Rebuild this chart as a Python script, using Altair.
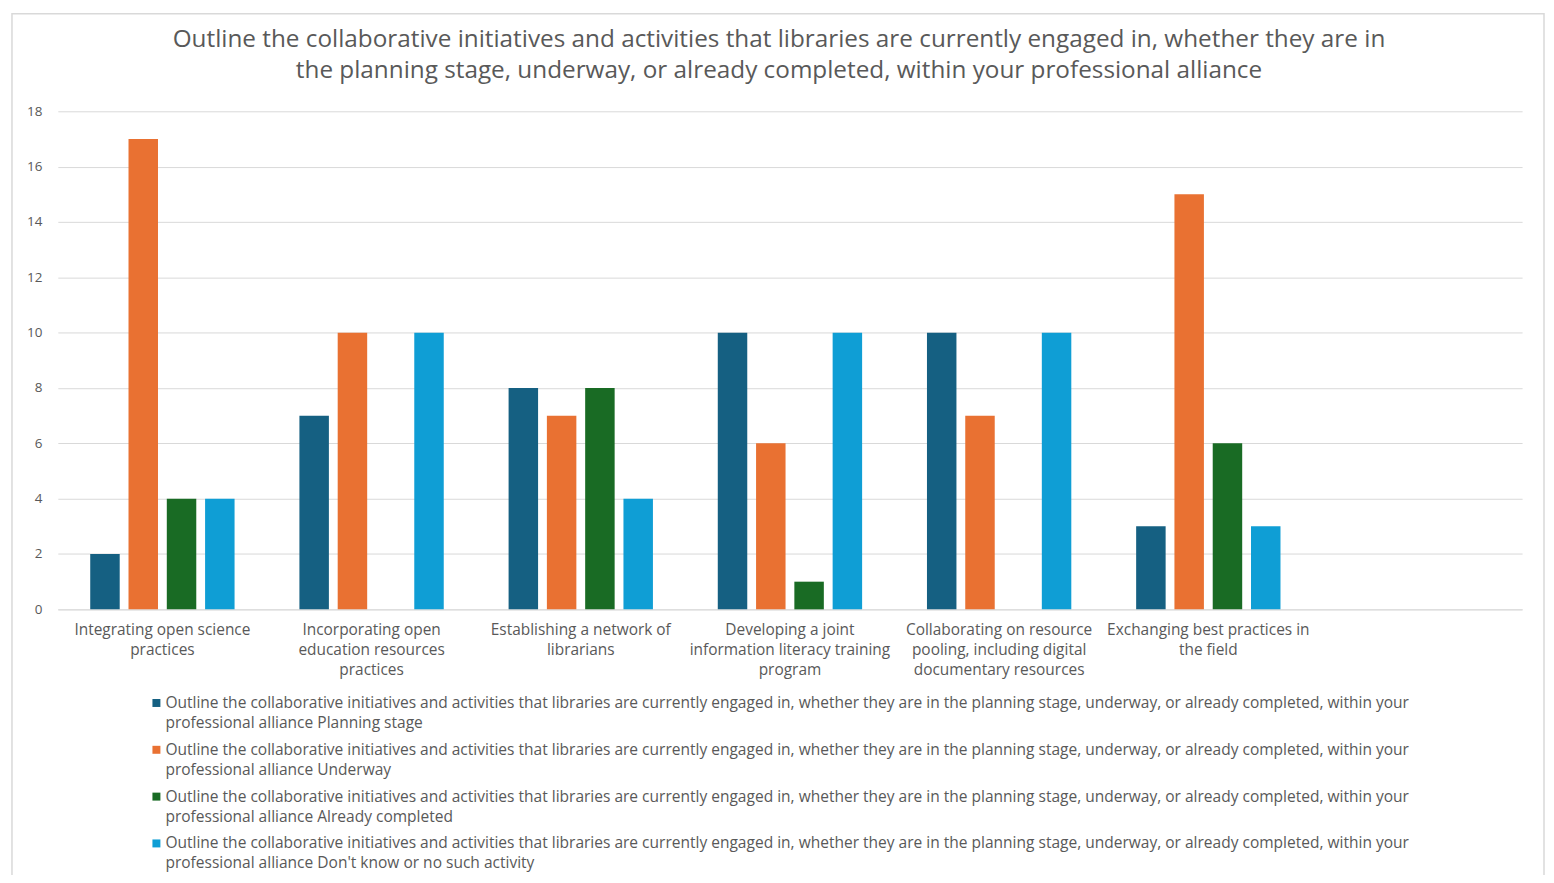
import json
import altair as alt
import pandas as pd

# ---------------- data ----------------
title_lines = [
    "Outline the collaborative initiatives and activities that libraries are currently engaged in, whether they are in",
    "the planning stage, underway, or already completed, within your professional alliance",
]
question = ("Outline the collaborative initiatives and activities that libraries are currently engaged in, "
            "whether they are in the planning stage, underway, or already completed, within your professional alliance")
statuses = ["Planning stage", "Underway", "Already completed", "Don't know or no such activity"]

categories = [
    "Integrating open science practices",
    "Incorporating open education resources practices",
    "Establishing a network of librarians",
    "Developing a joint information literacy training program",
    "Collaborating on resource pooling, including digital documentary resources",
    "Exchanging best practices in the field",
]
category_lines = [
    ["Integrating open science", "practices"],
    ["Incorporating open", "education resources", "practices"],
    ["Establishing a network of", "librarians"],
    ["Developing a joint", "information literacy training", "program"],
    ["Collaborating on resource", "pooling, including digital", "documentary resources"],
    ["Exchanging best practices in", "the field"],
]
planning = [2, 7, 8, 10, 10, 3]
underway = [17, 10, 7, 6, 7, 15]
completed = [4, 0, 8, 1, 0, 6]
dont_know = [4, 10, 4, 10, 10, 3]
y_ticks = list(range(0, 19, 2))

colors = ["#156082", "#E97132", "#196B24", "#0F9ED5"]
FONT = "Open Sans"
GREY = "#595959"

# ---------------- tables ----------------
series_names = [f"{question} {s}" for s in statuses]
values = [planning, underway, completed, dont_know]
rows = []
for sname, vals in zip(series_names, values):
    for cat, v in zip(categories, vals):
        rows.append({"category": cat, "series": sname, "value": v})
df = pd.DataFrame(rows)

split_at = question.index("professional")
legend_rows = []
for sname, status in zip(series_names, statuses):
    legend_rows.append({
        "series": sname,
        "text": question[:split_at].strip() + "\n" + question[split_at:] + " " + status,
    })
df_leg = pd.DataFrame(legend_rows)

# x label wrapping expression
expr = "''"
for cat, lines in reversed(list(zip(categories, category_lines))):
    expr = f"datum.label == {json.dumps(cat)} ? {json.dumps(lines)} : ({expr})"

x_domain = categories + [" "]
color_scale = alt.Scale(domain=series_names, range=colors)

bars = alt.Chart(df).mark_bar().encode(
    x=alt.X("category:N", sort=x_domain,
            scale=alt.Scale(domain=x_domain, paddingInner=0.31, paddingOuter=0.155),
            axis=alt.Axis(title=None, labelAngle=0, labelExpr=expr, labelFont=FONT,
                          labelFontSize=15.5, labelColor=GREY, labelLineHeight=20,
                          labelPadding=13, labelLimit=0, ticks=False,
                          domainColor="#d9d9d9", grid=False)),
    xOffset=alt.XOffset("series:N", sort=series_names, scale=alt.Scale(paddingInner=0.23)),
    y=alt.Y("value:Q", scale=alt.Scale(domain=[0, 18], nice=False),
            axis=alt.Axis(title=None, values=y_ticks, labelFont=FONT, labelFontSize=13.5,
                          labelColor=GREY, labelPadding=16, domain=False, ticks=False,
                          gridColor="#d9d9d9")),
    color=alt.Color("series:N", scale=color_scale, legend=None),
)

leg_y = alt.Y("series:N", sort=series_names,
              scale=alt.Scale(type="point", range=[594, 735], padding=0), axis=None)

leg_sym = alt.Chart(df_leg).mark_square(size=64, opacity=1).encode(
    x=alt.value(99),
    y=leg_y,
    color=alt.Color("series:N", scale=color_scale, legend=None),
)
leg_txt = alt.Chart(df_leg).mark_text(
    align="left", baseline="middle", font=FONT, fontSize=15.6, color=GREY,
    lineBreak="\n", lineHeight=20,
).encode(
    x=alt.value(108),
    y=leg_y,
    text="text:N",
)

border = alt.Chart(pd.DataFrame({"a": [0]})).mark_rect(
    fill=None, stroke="#d9d9d9", strokeWidth=1.5
).encode(
    x=alt.value(-46), x2=alt.value(1492), y=alt.value(-98), y2=alt.value(800)
)

chart = alt.layer(border, bars, leg_sym, leg_txt).resolve_scale(
    y="independent"
).properties(
    width=1470,
    height=500,
    padding={"left": 50, "top": 102, "right": 24, "bottom": 265},
    autosize=alt.AutoSizeParams(type="none"),
    title=alt.Title(text=title_lines, font=FONT, fontSize=24.4, fontWeight="normal",
                    color=GREY, anchor="middle", frame="group", offset=28, dx=-11,
                    dy=99, lineHeight=31),
).configure_view(stroke=None)

chart.save("out.html", embed_options={"renderer": "svg", "actions": False})
